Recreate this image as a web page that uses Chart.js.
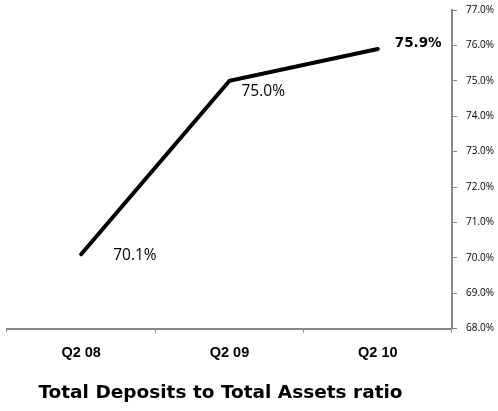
<!DOCTYPE html>
<html>
<head>
<meta charset="utf-8">
<script src="https://cdn.jsdelivr.net/npm/chart.js@4.4.0/dist/chart.umd.min.js"></script>
<style>
  body { margin: 0; background: #fff; }
</style>
</head>
<body>
<canvas id="ratioChart" width="498" height="411"></canvas>
<script>
// chart data
var quarters = ['Q2 08', 'Q2 09', 'Q2 10'];
var depositRatio = [70.1, 75.0, 75.9];
var labelText = ['70.1%', '75.0%', '75.9%'];
var chartTitle = 'Total Deposits to Total Assets ratio';

// value labels next to each point, plus the title under the axis
var valueLabels = {
    id: 'valueLabels',
    afterDatasetsDraw: function (chart) {
        var ctx = chart.ctx;
        var pts = chart.getDatasetMeta(0).data;
        ctx.save();
        ctx.fillStyle = '#000';
        ctx.textBaseline = 'middle';
        ctx.textAlign = 'left';
        pts.forEach(function (pt, i) {
            if (i === pts.length - 1) {
                ctx.font = 'bold 13.5px "DejaVu Sans"';
                ctx.fillText(labelText[i], pt.x + 17, pt.y - 5);
            } else if (i === 0) {
                ctx.font = '15.5px "Open Sans"';
                ctx.fillText(labelText[i], pt.x + 32, pt.y + 1);
            } else {
                ctx.font = '15.5px "Open Sans"';
                ctx.fillText(labelText[i], pt.x + 12, pt.y + 11);
            }
        });

        // title
        var area = chart.chartArea;
        ctx.font = 'bold 18.5px "DejaVu Sans"';
        ctx.textAlign = 'center';
        ctx.fillText(chartTitle, (area.left + area.right) / 2 - 9, 393);
        ctx.restore();
    }
};

var ctx = document.getElementById('ratioChart').getContext('2d');
new Chart(ctx, {
    type: 'line',
    data: {
        labels: quarters,
        datasets: [{
            label: 'Total Deposits to Total Assets',
            data: depositRatio,
            borderColor: '#000',
            borderWidth: 4,
            pointRadius: 0,
            tension: 0,
            borderCapStyle: 'round'
        }]
    },
    options: {
        responsive: false,
        animation: false,
        layout: { padding: { left: 7, right: -5, top: 10, bottom: 37 } },
        plugins: {
            legend: { display: false },
            tooltip: { enabled: false },
            title: { display: false }
        },
        scales: {
            x: {
                offset: true,
                grid: {
                    offset: true,
                    drawOnChartArea: false,
                    tickLength: 4,
                    color: '#888'
                },
                border: { color: '#888', width: 2 },
                ticks: {
                    color: '#000',
                    padding: 12,
                    font: { family: 'Liberation Sans', size: 14.5, weight: 'bold' }
                }
            },
            y: {
                position: 'right',
                min: 68,
                max: 77,
                grid: {
                    drawOnChartArea: false,
                    tickLength: 5,
                    color: '#888'
                },
                border: { color: '#888', width: 2 },
                ticks: {
                    stepSize: 1,
                    color: '#000',
                    padding: 9,
                    font: { family: 'Open Sans', size: 10, lineHeight: 0.2 },
                    callback: function (v) { return v.toFixed(1) + '%'; }
                }
            }
        }
    },
    plugins: [valueLabels]
});
</script>
</body>
</html>
